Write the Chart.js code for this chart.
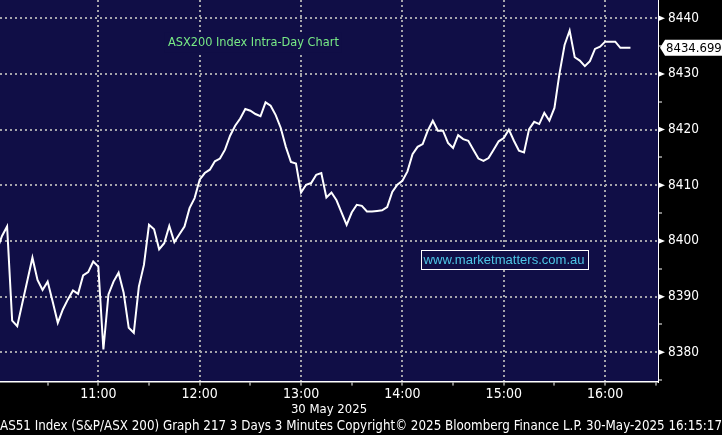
<!DOCTYPE html>
<html>
<head>
<meta charset="utf-8">
<script src="https://cdn.jsdelivr.net/npm/chart.js@4"></script>
<style>
  html, body { margin: 0; padding: 0; background: #000; }
  canvas { display: block; }
</style>
</head>
<body>
<canvas id="myChart" width="722" height="435"></canvas>
<script>
// 3 minute bars, 30 May 2025
const TIMES = [
    '10:00', '10:03', '10:06', '10:09', '10:12', '10:15', '10:18', '10:21', '10:24', '10:27', '10:30', '10:33', '10:36', '10:39', '10:42', '10:45', '10:48', '10:51', '10:54', '10:57',
    '11:00', '11:03', '11:06', '11:09', '11:12', '11:15', '11:18', '11:21', '11:24', '11:27', '11:30', '11:33', '11:36', '11:39', '11:42', '11:45', '11:48', '11:51', '11:54', '11:57',
    '12:00', '12:03', '12:06', '12:09', '12:12', '12:15', '12:18', '12:21', '12:24', '12:27', '12:30', '12:33', '12:36', '12:39', '12:42', '12:45', '12:48', '12:51', '12:54', '12:57',
    '13:00', '13:03', '13:06', '13:09', '13:12', '13:15', '13:18', '13:21', '13:24', '13:27', '13:30', '13:33', '13:36', '13:39', '13:42', '13:45', '13:48', '13:51', '13:54', '13:57',
    '14:00', '14:03', '14:06', '14:09', '14:12', '14:15', '14:18', '14:21', '14:24', '14:27', '14:30', '14:33', '14:36', '14:39', '14:42', '14:45', '14:48', '14:51', '14:54', '14:57',
    '15:00', '15:03', '15:06', '15:09', '15:12', '15:15', '15:18', '15:21', '15:24', '15:27', '15:30', '15:33', '15:36', '15:39', '15:42', '15:45', '15:48', '15:51', '15:54', '15:57',
    '16:00', '16:03', '16:06', '16:09', '16:12', '16:15'
];
const PRICES = [
    8398.4, 8400.9, 8402.6, 8385.7, 8384.7, 8388.8, 8392.9, 8397.0, 8393.0, 8391.2, 8392.7, 8389.1, 8385.3, 8387.7, 8389.5, 8391.1, 8390.5, 8393.8, 8394.4, 8396.3,
    8395.4, 8380.5, 8390.4, 8392.7, 8394.3, 8390.7, 8384.4, 8383.5, 8391.8, 8395.7, 8402.9, 8402.1, 8398.5, 8399.6, 8402.7, 8399.8, 8401.2, 8402.6, 8405.9, 8407.7,
    8411.0, 8412.2, 8412.8, 8414.3, 8414.8, 8416.4, 8418.9, 8420.7, 8422.0, 8423.7, 8423.4, 8422.8, 8422.4, 8424.9, 8424.3, 8422.6, 8420.3, 8416.9, 8414.2, 8413.9,
    8408.7, 8410.1, 8410.4, 8411.9, 8412.2, 8407.8, 8408.7, 8407.3, 8405.1, 8402.9, 8405.1, 8406.5, 8406.3, 8405.3, 8405.3, 8405.4, 8405.5, 8406.1, 8408.8, 8410.1,
    8410.8, 8412.5, 8415.6, 8416.9, 8417.4, 8419.8, 8421.6, 8419.8, 8419.8, 8417.6, 8416.7, 8419.0, 8418.3, 8418.0, 8416.4, 8414.8, 8414.4, 8414.9, 8416.4, 8417.9,
    8418.5, 8420.0, 8418.0, 8416.2, 8415.9, 8420.1, 8421.4, 8421.0, 8423.0, 8421.6, 8423.9, 8430.1, 8435.2, 8437.8, 8433.0, 8432.4, 8431.4, 8432.3, 8434.5, 8434.9,
    8435.8, 8435.8, 8435.8, 8434.7, 8434.7, 8434.699
];
// half hour tick marks, labelled on the hour
const X_TICKS = ['10:30', '11:00', '11:30', '12:00', '12:30', '13:00', '13:30', '14:00', '14:30', '15:00', '15:30', '16:00', '16:30'];
const X_TICK_LABELS = ['11:00', '12:00', '13:00', '14:00', '15:00', '16:00'];
const DATE_LABEL = '30 May 2025';
const CHART_TITLE = 'ASX200 Index Intra-Day Chart';
const WATERMARK = 'www.marketmatters.com.au';
const LAST_LABEL = '8434.699';
const FOOTER = 'AS51 Index (S&P/ASX 200) Graph 217 3 Days 3 Minutes Copyright\u00a9 2025 Bloomberg Finance L.P. 30-May-2025 16:15:17';

const X_MIN = 601.8, X_MAX = 991.3;     // minutes after midnight
const Y_MIN = 8374.74, Y_MAX = 8443.28;

const NAVY = '#100e46';
const GRID = '#a4a4aa';
const DOTS = [2, 3];
const NARROW = "'Liberation Sans Narrow', 'DejaVu Sans Condensed', 'Liberation Sans', sans-serif";
const PLAIN = "'Liberation Sans', Arial, sans-serif";

const toMin = t => { const [h, m] = t.split(':').map(Number); return h * 60 + m; };

const points = TIMES.map((t, i) => ({ x: toMin(t), y: PRICES[i] }));

// set a font so that text takes about the given width
function fitFont(ctx, text, family, width) {
    ctx.font = '14px ' + family;
    const size = 14 * width / ctx.measureText(text).width;
    ctx.font = size.toFixed(2) + 'px ' + family;
    return ctx.measureText(text).width;
}

// navy plot area, black around it
const bgPlugin = {
    id: 'bg',
    beforeDraw(chart) {
        const { ctx, chartArea: a } = chart;
        ctx.save();
        ctx.fillStyle = '#000';
        ctx.fillRect(0, 0, chart.width, chart.height);
        ctx.fillStyle = NAVY;
        ctx.fillRect(a.left, a.top, a.right - a.left, a.bottom - a.top);
        ctx.restore();
    }
};

// texts in the plot, arrow ticks on the price axis, last price tag
const notesPlugin = {
    id: 'notes',
    afterDatasetsDraw(chart) {
        const { ctx, chartArea: a } = chart;
        const xs = chart.scales.x, ys = chart.scales.y;
        ctx.save();
        ctx.textBaseline = 'middle';
        ctx.textAlign = 'center';

        // title
        let w = fitFont(ctx, CHART_TITLE, NARROW, 171);
        let cx = xs.getPixelForValue(751.8), cy = ys.getPixelForValue(8435.6);
        ctx.fillStyle = NAVY;
        ctx.fillRect(cx - w / 2 - 3, cy - 10, w + 6, 20);
        ctx.fillStyle = '#78ea86';
        ctx.fillText(CHART_TITLE, cx, cy);

        // watermark
        w = fitFont(ctx, WATERMARK, PLAIN, 161);
        cx = xs.getPixelForValue(900.2); cy = ys.getPixelForValue(8396.7);
        ctx.fillStyle = NAVY;
        ctx.fillRect(cx - w / 2 - 3, cy - 9.5, w + 6, 19);
        ctx.strokeStyle = '#fff';
        ctx.lineWidth = 1;
        ctx.strokeRect(Math.round(cx - w / 2 - 3) + 0.5, Math.round(cy - 9.5) + 0.5, Math.round(w + 6), 19);
        ctx.fillStyle = '#4ec6e6';
        ctx.fillText(WATERMARK, cx, cy + 1);

        // arrow ticks
        ctx.fillStyle = '#fff';
        ys.ticks.forEach(t => {
            if (t.value % 10 !== 0) return;
            const y = ys.getPixelForValue(t.value);
            ctx.beginPath();
            ctx.moveTo(a.right, y - 3);
            ctx.lineTo(a.right + 7, y);
            ctx.lineTo(a.right, y + 3);
            ctx.closePath();
            ctx.fill();
        });

        // last price tag
        const last = PRICES[PRICES.length - 1];
        const ty = ys.getPixelForValue(last);
        const left = a.right + 2;
        ctx.beginPath();
        ctx.moveTo(left, ty);
        ctx.lineTo(left + 5, ty - 8);
        ctx.lineTo(chart.width, ty - 8);
        ctx.lineTo(chart.width, ty + 8);
        ctx.lineTo(left + 5, ty + 8);
        ctx.closePath();
        ctx.fill();
        ctx.font = "13px " + NARROW;
        ctx.fillStyle = '#000';
        ctx.textAlign = 'left';
        ctx.fillText(LAST_LABEL, left + 6, ty + 1);
        ctx.restore();
    }
};

const config = {
    type: 'line',
    data: {
        datasets: [{
            label: 'AS51',
            data: points,
            borderColor: '#ffffff',
            borderWidth: 2,
            pointRadius: 0,
            tension: 0
        }]
    },
    options: {
        responsive: false,
        animation: false,
        layout: { padding: 0 },
        plugins: {
            legend: { display: false },
            tooltip: { enabled: false },
            title: {
                display: true,
                position: 'bottom',
                text: FOOTER,
                color: '#fff',
                font: { family: NARROW, size: 14.5, weight: 'normal', lineHeight: 1.2 },
                padding: 0
            }
        },
        scales: {
            x: {
                type: 'linear',
                min: X_MIN,
                max: X_MAX,
                afterBuildTicks(s) { s.ticks = X_TICKS.map(t => ({ value: toMin(t) })); },
                ticks: {
                    autoSkip: false,
                    maxRotation: 0,
                    padding: 0,
                    color: '#fff',
                    font: { family: NARROW, size: 14 },
                    callback: v => X_TICK_LABELS.find(l => toMin(l) === v) || ''
                },
                grid: {
                    color: c => (c.tick && c.tick.value % 60 === 0) ? GRID : 'transparent',
                    lineWidth: 2,
                    tickColor: '#fff',
                    tickLength: 4,
                    tickWidth: 1
                },
                border: { display: true, color: '#fff', width: 1.5, dash: DOTS },
                title: {
                    display: true,
                    text: DATE_LABEL,
                    color: '#fff',
                    font: { family: NARROW, size: 13, lineHeight: 1.2 },
                    padding: { top: 0, bottom: 0 }
                },
                afterFit(s) { s.height = 36; s.paddingLeft = 0; s.paddingRight = 0; }
            },
            y: {
                position: 'right',
                min: Y_MIN,
                max: Y_MAX,
                ticks: {
                    stepSize: 5,
                    maxTicksLimit: 30,
                    includeBounds: false,
                    padding: 6,
                    color: '#fff',
                    font: { family: NARROW, size: 13.5 },
                    callback: v => (v % 10 === 0) ? String(v) : ''
                },
                grid: {
                    color: c => (c.tick && c.tick.value % 10 === 0) ? GRID : 'transparent',
                    lineWidth: 2,
                    tickColor: '#fff',
                    tickLength: 4,
                    tickWidth: 1
                },
                border: { display: true, color: '#fff', width: 1, dash: DOTS },
                afterFit(s) { s.width = 64; s.paddingTop = 0; s.paddingBottom = 0; }
            }
        }
    },
    plugins: [bgPlugin, notesPlugin]
};

const myChart = new Chart(document.getElementById('myChart'), config);
</script>
</body>
</html>
